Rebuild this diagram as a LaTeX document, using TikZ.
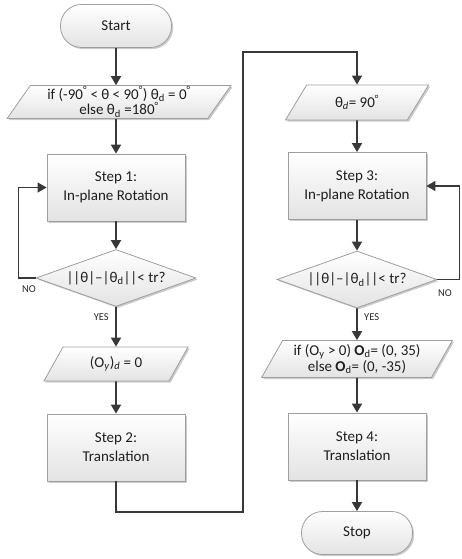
\documentclass[tikz,border=0pt]{standalone}
\usepackage{fontspec}
\setmainfont{Carlito}
\usetikzlibrary{shapes.geometric,shadows,arrows.meta}
\newcommand\subd{\textsubscript{d}}
\newcommand\subdi{\textsubscript{\textit{d}}}
\newcommand\dg{\textsuperscript{°}}
\tikzset{
  fbox/.style={draw=black!38, line width=0.8pt, top color=white, bottom color=black!11,
    drop shadow={shadow xshift=1.6pt,shadow yshift=-1.6pt,fill=black!40,opacity=0.5},
    font=\fontsize{15pt}{19pt}\selectfont, text=black!88, align=center},
  stepbox/.style={fbox, rectangle, minimum width=138pt, minimum height=67pt},
  iobox/.style={fbox, trapezium, trapezium left angle=60, trapezium right angle=120,
    trapezium stretches=true, inner sep=1pt},
  decbox/.style={fbox, diamond, aspect=2.8, minimum width=160pt, minimum height=57pt, inner sep=0pt},
  termbox/.style={fbox, rectangle, rounded corners=21pt, minimum width=111pt, minimum height=43pt},
  arr/.style={draw=black!78, line width=1.8pt, -{Triangle[length=9pt,width=10pt]}},
  link/.style={draw=black!78, line width=1.3pt, -{Triangle[length=9pt,width=10pt]}},
  lbl/.style={font=\fontsize{10.5pt}{12pt}\selectfont, text=black!85, inner sep=0pt}
}
\begin{document}
\begin{tikzpicture}[x=1pt,y=-1pt]
\useasboundingbox (0,0) rectangle (461,559);

% left column
\node[termbox] (start) at (116,26) {Start};
\node[iobox, minimum width=224pt, minimum height=32pt] (p1) at (119,102)
  {if (-90\dg{} < θ < 90\dg) θ\subd{} = 0\dg\\[-3pt] else θ\subd{} =180\dg};
\node[stepbox] (s1) at (116,187.5) {Step 1:\\In-plane Rotation};
\node[decbox] (d1) at (116,278) {||θ|–|θ\subd||< tr?};
\node[iobox, minimum width=145pt, minimum height=34pt] (p2) at (116,364)
  {(O\textsubscript{\textit{y}})\subdi{} = 0};
\node[stepbox] (s2) at (116,447.5) {Step 2:\\Translation};

% right column
\node[iobox, minimum width=144pt, minimum height=35pt] (p3) at (357,102.5) {θ\subdi{}= 90\dg};
\node[stepbox] (s3) at (357,186) {Step 3:\\In-plane Rotation};
\node[decbox] (d2) at (357,279.5) {||θ|–|θ\subd||< tr?};
\node[iobox, minimum width=191pt, minimum height=37pt] (p4) at (357,359)
  {if (O\textsubscript{y} > 0) \textbf{O}\subd{}= (0, 35)\\[-3pt] else \textbf{O}\subd{}= (0, -35)};
\node[stepbox] (s4) at (357,446.5) {Step 4:\\Translation};
\node[termbox] (stop) at (357,533) {Stop};

% labels
\node[lbl] (no1) at (29,289) {NO};
\node[lbl, anchor=east] (yes1) at (109,317) {YES};
\node[lbl] (no2) at (445,293) {NO};
\node[lbl, anchor=west] (yes2) at (364,317) {YES};

% arrows
\draw[arr] (start.south) -- (start.south |- p1.north);
\draw[arr] (s1.north |- p1.south) -- (s1.north);
\draw[arr] (s1.south) -- (d1.north);
\draw[arr] (d1.south) -- (p2.north);
\draw[arr] (p2.south) -- (s2.north);
\draw[link] (d1.west) -- ++(-17,0) |- (s1.west);

\coordinate (c1) at (243,512);
\coordinate (c2) at (243,52);
\draw[link] (s2.south) |- (c1) -- (c2) -| (p3.north);

\draw[arr] (p3.south) -- (s3.north);
\draw[arr] (s3.south) -- (d2.north);
\draw[arr] (d2.south) -- (p4.north);
\draw[arr] (p4.south) -- (s4.north);
\draw[arr] (s4.south) -- (stop.north);
\draw[link] (d2.east) -- ++(22,0) |- (s3.east);
\end{tikzpicture}
\end{document}
